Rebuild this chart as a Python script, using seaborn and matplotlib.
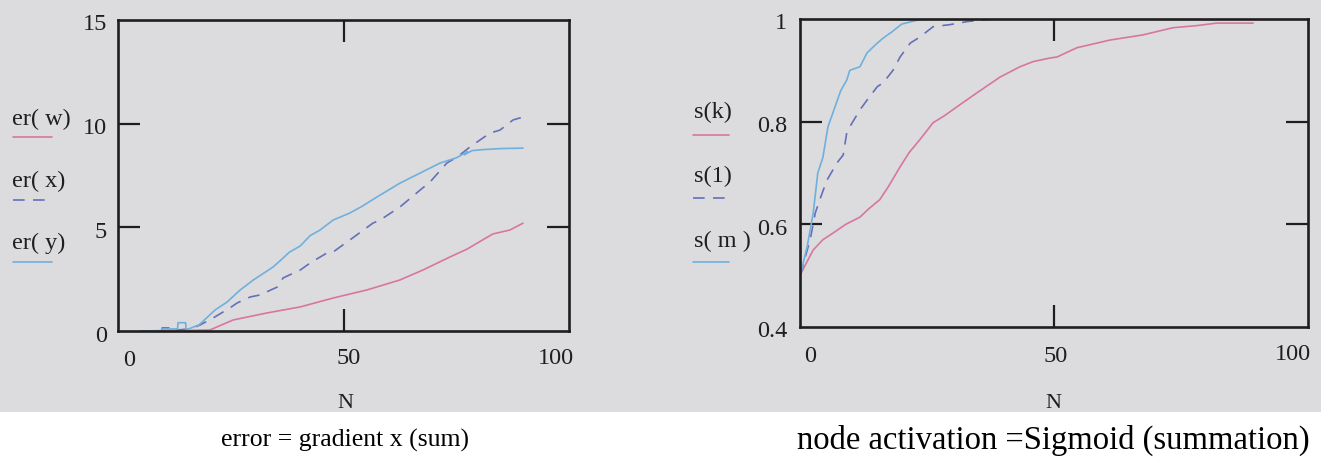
import numpy as np
import pandas as pd
import seaborn as sns
import matplotlib
matplotlib.use("Agg")
import matplotlib.pyplot as plt
from matplotlib.transforms import offset_copy, blended_transform_factory
from matplotlib.patches import Rectangle
from matplotlib.lines import Line2D

# ---------------- data ----------------
# left panel: error curves
N_w = [5, 10, 13, 16, 20.4, 25.5, 33, 40.4, 47.7, 55.2, 62.5, 67.6, 73.6, 77.4, 83.1, 86.9, 89.8]
er_w = [0, 0.02, 0.05, 0.03, 0.05, 0.53, 0.87, 1.16, 1.59, 1.98, 2.46, 2.94, 3.57, 3.95, 4.68, 4.87, 5.2]

N_x = [5, 9.7, 9.8, 13, 13.1, 16, 18.2, 21.1, 24.8, 26.4, 29.3, 31.5, 35.3, 36.6, 40.4, 42.6,
       46.3, 47.7, 52.1, 56.5, 58.1, 62.5, 67, 69.2, 72.9, 75.2, 78, 82.5, 84.7, 87.6, 89.8]
er_x = [0, 0, 0.15, 0.15, 0.05, 0.1, 0.29, 0.63, 1.11, 1.35, 1.64, 1.74, 2.12, 2.56, 2.94, 3.28,
        3.76, 3.81, 4.5, 5.2, 5.35, 5.98, 6.8, 7.19, 8.10, 8.39, 8.87, 9.55, 9.69, 10.18, 10.32]

N_y = [5.3, 9.6, 9.7, 13.2, 13.3, 15, 15.1, 18, 21.5, 24.2, 27.1, 30, 34.4, 36, 38, 40.4, 42.6,
       44.8, 47.7, 51.4, 54, 57.4, 62.5, 67, 71.4, 75, 77.5, 76.8, 78.5, 81, 85, 89.8]
er_y = [0, 0, 0.1, 0.1, 0.4, 0.4, 0.05, 0.3, 1.01, 1.40, 1.98, 2.46, 3.09, 3.4, 3.8, 4.1, 4.6,
        4.87, 5.35, 5.69, 6.0, 6.46, 7.13, 7.62, 8.10, 8.35, 8.65, 8.5, 8.7, 8.75, 8.8, 8.82]

# right panel: sigmoid activations
N_k = [0, 1, 2.6, 4.5, 6.5, 9, 11.8, 13.5, 15.7, 17.5, 19.7, 21.5, 23.6, 26.2, 28.5, 30.9, 34.8,
       39.4, 43.3, 45.9, 49.2, 50.6, 54.5, 58, 61, 67.5, 73.4, 78, 82, 89.2]
s_k = [0.50, 0.52, 0.55, 0.57, 0.583, 0.60, 0.614, 0.63, 0.648, 0.675, 0.712, 0.74, 0.765, 0.798,
       0.812, 0.829, 0.856, 0.887, 0.907, 0.917, 0.924, 0.926, 0.944, 0.952, 0.959, 0.969, 0.983,
       0.987, 0.992, 0.992]

N_l = [0, 2, 3, 3.9, 5.3, 7.3, 8.5, 9.2, 9.8, 11.8, 13.2, 15.2, 16.4, 18.3, 19.7, 21.7, 23.6,
       26.2, 29.5, 32.9, 38]
s_l = [0.5, 0.57, 0.622, 0.648, 0.686, 0.72, 0.735, 0.778, 0.79, 0.823, 0.842, 0.868, 0.876,
       0.90, 0.926, 0.953, 0.965, 0.985, 0.989, 0.995, 1.0]

N_m = [0, 1.4, 2.6, 3.5, 4.5, 5.5, 6.9, 8, 9.2, 9.8, 11.8, 13.2, 15.2, 16.4, 18.1, 20, 24]
s_m = [0.5, 0.556, 0.622, 0.70, 0.73, 0.79, 0.829, 0.86, 0.881, 0.90, 0.907, 0.934, 0.953,
       0.963, 0.975, 0.99, 1.0]

left_labels = ["er( w)", "er( x)", "er( y)"]
right_labels = ["s(k)", "s(1)", "s( m )"]
left_yticks = [0, 5, 10, 15]
right_yticks = [0.4, 0.6, 0.8, 1]
xticks = [0, 50, 100]
captions = ["error = gradient x (sum)", "node activation =Sigmoid (summation)"]

# ---------------- style ----------------
sns.set_theme(style="white")
plt.rcParams["font.family"] = ["Liberation Serif", "DejaVu Serif"]

BG = "#dcdcdf"
PINK = "#d8769e"
LBLUE = "#6fb0dc"
DBLUE = "#6670b8"
DASH = (0, (7, 5))
INK = "#1e1e1e"

W, H = 1321, 462
fig = plt.figure(figsize=(W / 100, H / 100), dpi=100)
fig.patch.set_facecolor("white")
fig.patches.append(Rectangle((0, 1 - 412 / H), 1, 412 / H, transform=fig.transFigure,
                             facecolor=BG, edgecolor="none", zorder=-10))


def px_rect(x0, y0, x1, y1):
    return [x0 / W, 1 - y1 / H, (x1 - x0) / W, (y1 - y0) / H]


axL = fig.add_axes(px_rect(118, 20, 569, 331))
axR = fig.add_axes(px_rect(800, 19, 1308, 327))

def draw(ax, x, y, color, ls="-"):
    df = pd.DataFrame({"N": x, "v": y})
    sns.lineplot(data=df, x="N", y="v", ax=ax, sort=False, estimator=None,
                 color=color, linewidth=1.2, linestyle=ls)

draw(axL, N_w, er_w, PINK)
draw(axL, N_x, er_x, DBLUE, DASH)
draw(axL, N_y, er_y, LBLUE)

draw(axR, N_k, s_k, PINK)
draw(axR, N_l, s_l, DBLUE, DASH)
draw(axR, N_m, s_m, LBLUE)

axL.set_xlim(0, 100)
axL.set_ylim(0, 15)
axR.set_xlim(0, 100)
axR.set_ylim(0.4, 1)

for ax, yt in ((axL, [5, 10]), (axR, [0.6, 0.8])):
    ax.set_facecolor("none")
    ax.set_xlabel("")
    ax.set_ylabel("")
    ax.set_xticks([])
    ax.set_yticks([])
    ax.set_xticks([50], minor=True)
    ax.set_yticks(yt, minor=True)
    ax.tick_params(which="minor", direction="in", length=15.5, width=1.6, color=INK,
                   top=True, bottom=True, left=True, right=True,
                   labelbottom=False, labelleft=False)
    for s in ax.spines.values():
        s.set_visible(True)
        s.set_color(INK)
        s.set_linewidth(1.9)

FS = 17.5

def tick_text(ax, x, y, s, dx, dy, xcoord="data", ycoord="data", ha="center", va="center"):
    tx = ax.transData if xcoord == "data" else ax.transAxes
    ty = ax.transData if ycoord == "data" else ax.transAxes
    tr = blended_transform_factory(tx, ty)
    tr = offset_copy(tr, fig=fig, x=dx, y=dy, units="dots")
    ax.text(x, y, s, transform=tr, ha=ha, va=va, fontsize=FS, color=INK, clip_on=False)

# left panel tick labels
for v in left_yticks:
    tick_text(axL, 0, v, str(v), -11, -5, xcoord="axes", ha="right")
tick_text(axL, 0, 0, "0", 11, -29, ycoord="axes")
tick_text(axL, 50, 0, "50", 5, -28, ycoord="axes")
tick_text(axL, 100, 0, "100", -13, -27, ycoord="axes")
# right panel tick labels
for v in right_yticks:
    lab = "1" if v == 1 else f"{v:.1f}"
    tick_text(axR, 0, v, lab, -13, -5, xcoord="axes", ha="right")
tick_text(axR, 0, 0, "0", 10, -30, ycoord="axes")
tick_text(axR, 50, 0, "50", 2, -29, ycoord="axes")
tick_text(axR, 100, 0, "100", -15, -27, ycoord="axes")

# axis titles "N"
fig.text(345 / W, 1 - 404 / H, "N", ha="center", va="center", fontsize=16, color=INK)
fig.text(1053 / W, 1 - 404 / H, "N", ha="center", va="center", fontsize=16, color=INK)

# captions
fig.text(345 / W, 1 - 440 / H, captions[0], ha="center", va="center", fontsize=18.5, color="black")
fig.text(1053 / W, 1 - 440 / H, captions[1], ha="center", va="center", fontsize=23.5, color="black")

# Mathcad-style legends to the left of each plot
def legend(x_text, x0, x1, ys_text, ys_line, labels):
    styles = [(PINK, "-"), (DBLUE, DASH), (LBLUE, "-")]
    for lab, yt, yl, (c, ls) in zip(labels, ys_text, ys_line, styles):
        fig.text(x_text / W, 1 - yt / H, lab, ha="left", va="center", fontsize=FS, color=INK)
        fig.lines.append(Line2D([x0 / W, x1 / W], [1 - yl / H, 1 - yl / H], transform=fig.transFigure,
                                color=c, linewidth=1.2, linestyle=ls))

legend(12, 13, 52, [119, 181, 243], [137, 200, 262], left_labels)
legend(694, 693, 729, [112, 176, 241], [135, 198, 262], right_labels)

fig.savefig("out.png", dpi=100, facecolor=fig.get_facecolor())
